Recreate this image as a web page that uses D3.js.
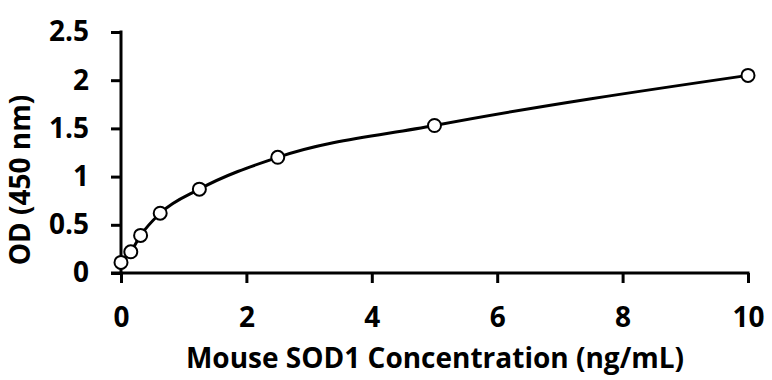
<!DOCTYPE html>
<html>
<head>
<meta charset="utf-8">
<script src="https://cdn.jsdelivr.net/npm/d3@7"></script>
<style>
  html, body { margin: 0; padding: 0; background: #fff; }
  svg { display: block; }
  text { font-family: "Open Sans", "Liberation Sans", sans-serif; font-weight: 700; fill: #000; }
</style>
</head>
<body>
<svg id="chart" width="772" height="380"></svg>
<script>
const concentrations = [0, 0.156, 0.3125, 0.625, 1.25, 2.5, 5, 10];
const odValues = [0.11, 0.22, 0.39, 0.62, 0.87, 1.20, 1.53, 2.05];
const xTicks = [0, 2, 4, 6, 8, 10];
const yTicks = [0, 0.5, 1, 1.5, 2, 2.5];
const xTitle = "Mouse SOD1 Concentration (ng/mL)";
const yTitle = "OD (450 nm)";

const svg = d3.select("#chart");
const x = d3.scaleLinear().domain([0, 10]).range([121, 748]);
const y = d3.scaleLinear().domain([0, 2.5]).range([273, 32]);

const fs = 28;

const xAxis = svg.append("g").attr("transform", `translate(0,${y(0)})`)
  .call(d3.axisBottom(x).tickValues(xTicks).tickFormat(d3.format("d")).tickSize(10).tickSizeOuter(0).tickPadding(24));
const yAxis = svg.append("g").attr("transform", `translate(${x(0)},0)`)
  .call(d3.axisLeft(y).tickValues(yTicks).tickFormat(d => String(d)).tickSize(10).tickSizeOuter(0).tickPadding(22));

[xAxis, yAxis].forEach(g => {
  g.select(".domain").attr("stroke", "#000").attr("stroke-width", 3);
  g.selectAll(".tick line").attr("stroke", "#000").attr("stroke-width", 3);
  g.selectAll(".tick text").attr("font-size", fs).attr("font-family", null).attr("fill", "#000");
});
xAxis.select(".domain").attr("d", `M${x(0) - 10},0H${x(10) + 1.5}`);
yAxis.select(".domain").attr("d", `M0,${y(2.5) - 1.5}V${y(0)}`);

const data = concentrations.map((c, i) => ({ c, v: odValues[i] }));
const line = d3.line().x(d => x(d.c)).y(d => y(d.v)).curve(d3.curveMonotoneX);
svg.append("path").datum(data).attr("d", line)
  .attr("fill", "none").attr("stroke", "#000").attr("stroke-width", 3);

svg.append("g").selectAll("circle").data(data).join("circle")
  .attr("cx", d => x(d.c)).attr("cy", d => y(d.v)).attr("r", 6.5)
  .attr("fill", "#fff").attr("stroke", "#000").attr("stroke-width", 2);

svg.append("text").attr("x", 435).attr("y", 368)
  .attr("text-anchor", "middle").attr("font-size", fs).text(xTitle);
svg.append("text").attr("transform", `translate(30,180) rotate(-90)`)
  .attr("text-anchor", "middle").attr("font-size", fs).text(yTitle);
</script>
</body>
</html>
